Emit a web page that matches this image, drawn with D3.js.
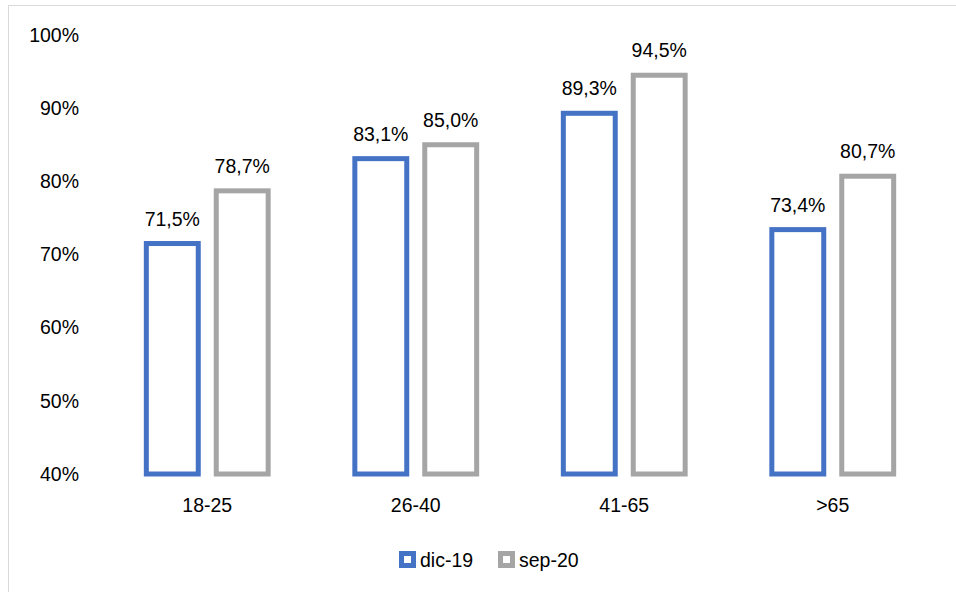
<!DOCTYPE html>
<html>
<head>
<meta charset="utf-8">
<script src="https://cdn.jsdelivr.net/npm/d3@7"></script>
<style>
  body { margin: 0; background: #fff; }
  text { font-family: "Liberation Sans", Arial, sans-serif; fill: #000; }
</style>
</head>
<body>
<svg id="chart"></svg>
<script>
        // Data
        const categories = ["18-25", "26-40", "41-65", ">65"];
        const series = ["dic-19", "sep-20"];
        const dic19 = [71.5, 83.1, 89.3, 73.4];
        const sep20 = [78.7, 85.0, 94.5, 80.7];
        const yTicks = [40, 50, 60, 70, 80, 90, 100];

        const width = 956, height = 592;
        const colors = { "dic-19": "#4472C4", "sep-20": "#A5A5A5" };
        const strokeW = 5;
        const fontSize = "19.5px";

        const svg = d3.select("#chart")
            .attr("width", width)
            .attr("height", height);

        // Chart area border
        svg.append("rect")
            .attr("x", 8.5).attr("y", 5.5)
            .attr("width", 960).attr("height", 600)
            .attr("fill", "none")
            .attr("stroke", "#D9D9D9")
            .attr("stroke-width", 1);

        // Scales
        const x0 = d3.scaleBand()
            .domain(categories)
            .range([103, 937]);

        const x1 = d3.scaleBand()
            .domain(series)
            .range([0, x0.bandwidth()])
            .paddingInner(0.186)
            .paddingOuter(0.584);

        const y = d3.scaleLinear()
            .domain([40, 100])
            .range([474, 35]);

        // Y axis labels
        svg.append("g").selectAll("text")
            .data(yTicks)
            .join("text")
            .attr("x", 79)
            .attr("y", d => y(d))
            .attr("dy", "0.35em")
            .attr("text-anchor", "end")
            .style("font-size", fontSize)
            .text(d => d + "%");

        // X axis labels
        svg.append("g").selectAll("text")
            .data(categories)
            .join("text")
            .attr("x", d => x0(d) + x0.bandwidth() / 2)
            .attr("y", 512)
            .attr("text-anchor", "middle")
            .style("font-size", fontSize)
            .text(d => d);

        // Bars
        const rows = categories.map((c, i) => ({
            cat: c,
            values: [
                { key: "dic-19", value: dic19[i] },
                { key: "sep-20", value: sep20[i] }
            ]
        }));

        const groups = svg.append("g").selectAll("g")
            .data(rows)
            .join("g")
            .attr("transform", d => `translate(${x0(d.cat)},0)`);

        groups.selectAll("rect")
            .data(d => d.values)
            .join("rect")
            .attr("x", d => x1(d.key) + strokeW / 2)
            .attr("width", x1.bandwidth() - strokeW)
            .attr("y", d => y(d.value))
            .attr("height", d => y(40) - y(d.value))
            .attr("fill", "none")
            .attr("stroke", d => colors[d.key])
            .attr("stroke-width", strokeW);

        // Data labels
        groups.selectAll("text")
            .data(d => d.values)
            .join("text")
            .attr("x", d => x1(d.key) + x1.bandwidth() / 2)
            .attr("y", d => y(d.value) - 18)
            .attr("text-anchor", "middle")
            .style("font-size", fontSize)
            .text(d => d.value.toFixed(1).replace(".", ",") + "%");

        // Legend
        const legendX = [399, 498];
        const legend = svg.append("g").selectAll("g")
            .data(series)
            .join("g")
            .attr("transform", (d, i) => `translate(${legendX[i]},551)`);

        legend.append("rect")
            .attr("x", 2.5).attr("y", 2.5)
            .attr("width", 12).attr("height", 12)
            .attr("fill", "#fff")
            .attr("stroke", d => colors[d])
            .attr("stroke-width", strokeW);

        legend.append("text")
            .attr("x", 21)
            .attr("y", 9)
            .attr("dy", "0.35em")
            .style("font-size", fontSize)
            .text(d => d);
</script>
</body>
</html>
